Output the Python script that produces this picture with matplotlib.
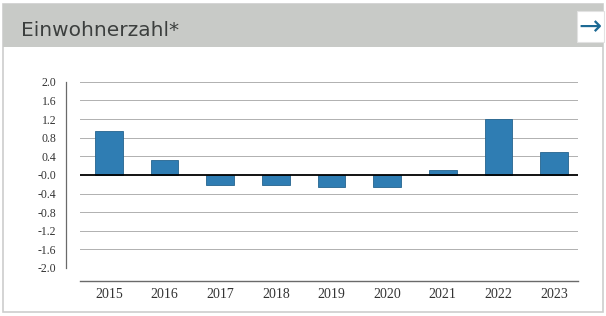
import numpy as np
import matplotlib
matplotlib.use("Agg")
import matplotlib.pyplot as plt
from matplotlib.patches import Rectangle

# values
years = ["2015", "2016", "2017", "2018", "2019", "2020", "2021", "2022", "2023"]
change = [0.95, 0.31, -0.21, -0.21, -0.27, -0.25, 0.11, 1.20, 0.49]
yticks = [2.0, 1.6, 1.2, 0.8, 0.4, 0.0, -0.4, -0.8, -1.2, -1.6, -2.0]
title = "Einwohnerzahl*"

W, H = 606, 316
fig = plt.figure(figsize=(W / 100, H / 100), dpi=100)
fig.patch.set_facecolor("white")

# frame: white panel with a grey border and grey header band
bg = fig.add_axes([0, 0, 1, 1])
bg.set_xlim(0, W)
bg.set_ylim(H, 0)
bg.axis("off")
bg.add_patch(Rectangle((3, 4), 600, 308, facecolor="white", edgecolor="#cdcdcd", lw=1.2))
bg.add_patch(Rectangle((3, 4), 600, 43, facecolor="#c8cac7", edgecolor="none"))
bg.add_patch(Rectangle((577, 11), 27, 31, facecolor="white", edgecolor="#e2e2e2", lw=0.8))
bg.text(21, 30, title, fontsize=14.5, color="#3c3f3e", va="center", ha="left",
        family="DejaVu Sans")
bg.text(590.5, 27, "\u2192", fontsize=20, color="#1d6a94", va="center", ha="center",
        family="DejaVu Sans")

# chart
ax = fig.add_axes([80 / W, 1 - 281 / H, 498 / W, 201 / H])
x = np.arange(len(years))
ax.bar(x, change, width=0.5, color="#2f7db3", edgecolor="#25648f", lw=0.6, zorder=3)

for v in yticks:
    if v == 0.0:
        ax.axhline(v, color="black", lw=1.3, zorder=4)
    elif v > -2.0:
        ax.axhline(v, color="#b0b0b0", lw=0.7, zorder=1)

ax.set_xlim(-0.52, 8.43)
ax.set_ylim(-2.28, 2.04)
ax.set_yticks(yticks)
ax.set_yticklabels(["%.1f" % v if v != 0 else "-0.0" for v in yticks])
ax.set_xticks(x)
ax.set_xticklabels(years)

for s in ["top", "right"]:
    ax.spines[s].set_visible(False)
ax.spines["left"].set_position(("outward", 10))
ax.spines["left"].set_bounds(-2.0, 2.0)
ax.spines["left"].set_color("#6a6a6a")
ax.spines["left"].set_linewidth(0.9)
ax.spines["bottom"].set_color("#6a6a6a")
ax.spines["bottom"].set_linewidth(1.0)

ax.tick_params(axis="y", length=0, pad=7, labelsize=8.5, labelcolor="#333333")
ax.tick_params(axis="x", length=0, pad=5, labelsize=10, labelcolor="#333333")
for lab in ax.get_xticklabels() + ax.get_yticklabels():
    lab.set_family("Liberation Serif")

fig.savefig("out.png", dpi=100, facecolor="white")
